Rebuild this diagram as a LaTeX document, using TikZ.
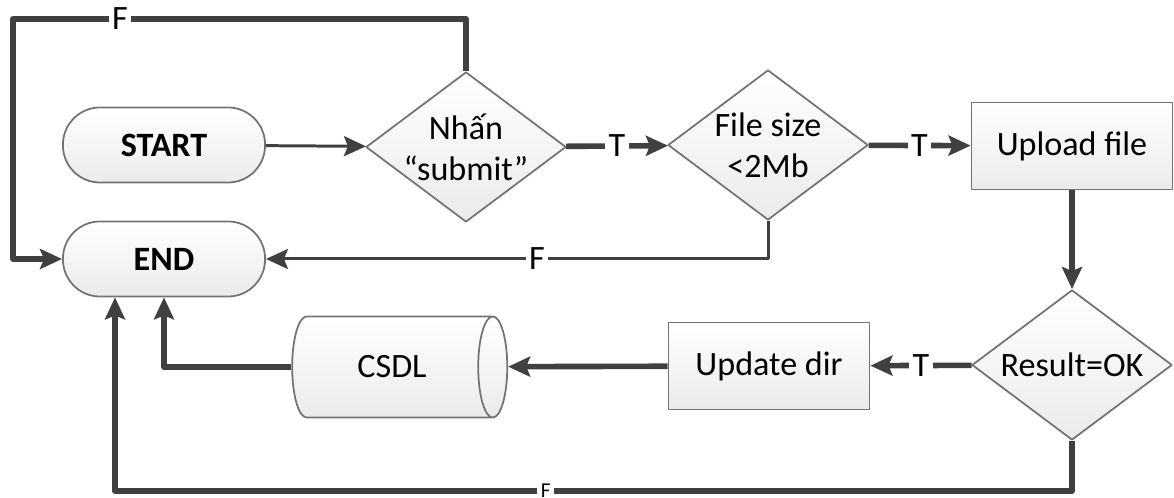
\documentclass[tikz,border=0pt]{standalone}
\usepackage{fontspec}
\setmainfont{Carlito}
\usetikzlibrary{arrows.meta,shapes.geometric,positioning}

\begin{document}
\begin{tikzpicture}[x=0.01cm,y=-0.01cm,>={Stealth[length=0.22cm,width=0.2cm,inset=0.04cm]},line join=round,font=\fontsize{9.7}{11.7}\selectfont,
  box/.style={draw=black!55,line width=0.5pt,top color=white,bottom color=black!8,text=black,align=center,inner sep=0pt},
  term/.style={box,rounded corners=0.37cm,minimum width=2.02cm,minimum height=0.75cm,font=\fontsize{9.7}{11.7}\selectfont\bfseries},
  proc/.style={box,minimum width=2.01cm,minimum height=0.87cm},
  test/.style={box,diamond,aspect=1.33,inner sep=-0.1cm,minimum width=2cm,minimum height=1.5cm},
  store/.style={box,cylinder,aspect=1.3,minimum width=1.01cm,minimum height=2.15cm},
  link/.style={draw=black!75,line width=0.85pt,->},
  boldlink/.style={draw=black!75,line width=1.6pt,->},
  lbl/.style={fill=white,inner xsep=1pt,inner ysep=0pt,text=black}]
\useasboundingbox (0,0) rectangle (1174,498);
% shapes
\node[term] (start) at (164,145) {START};
\node[term] (stop) at (164,259) {END};
\node[test] (press) at (466,147) {Nhấn\\“submit”};
\node[test] (size) at (768,145) {File size\\<2Mb};
\node[proc] (upload) at (1072,146) {Upload file};
\node[test] (result) at (1072,365) {Result=OK};
\node[proc] (update) at (769,366) {Update dir};
\node[store] (db) at (392,367) {CSDL};
\coordinate (corner) at (13,19);
\coordinate (bottom) at (115,491);
% top row
\draw[link] (start) -- (press);
\draw[boldlink] (press.north) -- (press.north |- corner) -- node[lbl,pos=0.764] {F} (corner) -- (corner |- stop) -- (stop.west);
\draw[boldlink] (press) -- node[lbl] {T} (size);
\draw[boldlink] (size) -- node[lbl] {T} (upload);
\draw[link] (size.south) -- (size.south |- stop) -- node[lbl,pos=0.46] {F} (stop.east);
% right side and bottom row
\draw[boldlink] (upload) -- (result);
\draw[boldlink] (result) -- node[lbl] {T} (update);
\draw[boldlink] (update) -- (db);
\draw[boldlink] (db.west) -| (stop.south);
\draw[boldlink] (result.south) -- (result.south |- bottom) -- node[lbl,pos=0.55,font=\fontsize{6}{7}\selectfont] {F} (bottom) -- (bottom |- stop.south);
\end{tikzpicture}
\end{document}
